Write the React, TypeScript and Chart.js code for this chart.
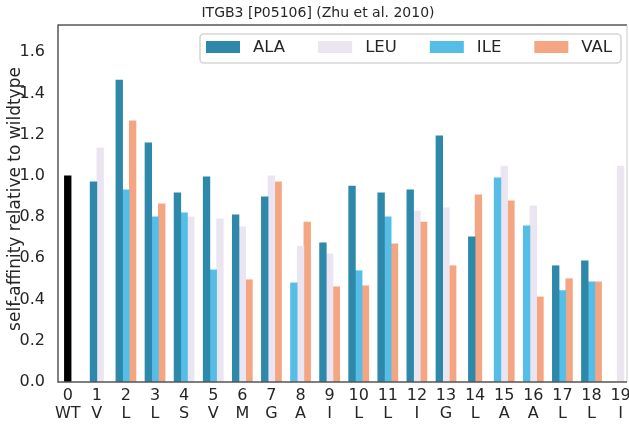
import { useEffect, useRef } from "react";
import { Chart, registerables } from "chart.js";

Chart.register(...registerables);

// Residue at each position along the scanned segment
const residues = ["WT", "V", "L", "L", "S", "V", "M", "G", "A", "I", "L", "L", "I", "G", "L", "A", "A", "L", "L", "I"];

// Self-affinity relative to wildtype for each substitution (null = not measured)
const wildtype = [1.0, null, null, null, null, null, null, null, null, null, null, null, null, null, null, null, null, null, null, null];
const ala = [null, 0.971, 1.465, 1.16, 0.918, 0.995, 0.811, 0.898, null, 0.675, 0.951, 0.918, 0.932, 1.194, 0.704, null, null, 0.564, 0.588, null];
const ile = [null, null, 0.932, 0.801, 0.821, 0.544, null, null, 0.481, null, 0.54, 0.801, null, null, null, 0.99, 0.758, 0.443, 0.486, null];
const leu = [null, 1.136, null, null, 0.801, 0.792, 0.753, 1.0, 0.66, 0.622, null, null, 0.83, 0.845, null, 1.048, 0.855, null, null, 1.048];
const val = [null, null, 1.267, 0.864, null, null, 0.496, 0.971, 0.776, 0.462, 0.467, 0.67, 0.776, 0.564, 0.908, 0.879, 0.413, 0.501, 0.486, null];

const yTicks = [0, 0.2, 0.4, 0.6, 0.8, 1.0, 1.2, 1.4, 1.6];
const legendOrder = ["ALA", "LEU", "ILE", "VAL"];

const FONT = "'DejaVu Sans', Verdana, sans-serif";
const TEXT = "#262626";
const BAR_UNITS = 0.23; // one bar's width in position units

const series = [
  { label: "WT", values: wildtype, color: "#000000" },
  { label: "ALA", values: ala, color: "#2d88aa" },
  { label: "ILE", values: ile, color: "#56bee6" },
  { label: "LEU", values: leu, color: "#ebe5f2" },
  { label: "VAL", values: val, color: "#f4a582" },
];

// Titles, boxed legend and the axes frame
const decorations = {
  id: "decorations",
  afterDraw(chart: any) {
    const { ctx, chartArea } = chart;
    const { left, right, top, bottom } = chartArea;
    ctx.save();

    // frame
    const line = (x1: number, y1: number, x2: number, y2: number, color: string, w: number) => {
      ctx.beginPath();
      ctx.strokeStyle = color;
      ctx.lineWidth = w;
      ctx.moveTo(x1, y1);
      ctx.lineTo(x2, y2);
      ctx.stroke();
    };
    line(left, top, right, top, "#000000", 1);
    line(right, top, right, bottom, "#cccccc", 1);
    line(left, top - 0.5, left, bottom + 0.75, "#555555", 1.5);
    line(left, bottom, right, bottom, "#555555", 1.5);

    // chart title
    ctx.fillStyle = TEXT;
    ctx.font = `14px ${FONT}`;
    ctx.textAlign = "center";
    ctx.textBaseline = "middle";
    ctx.fillText("ITGB3 [P05106] (Zhu et al. 2010)", 318, 13);

    // y-axis title
    ctx.save();
    ctx.translate(15.5, 199);
    ctx.rotate(-Math.PI / 2);
    ctx.font = `17px ${FONT}`;
    ctx.fillText("self-affinity relative to wildtype", 0, 0);
    ctx.restore();

    // legend
    const boxL = 200, boxR = 621, boxT = 34, boxB = 63;
    ctx.beginPath();
    ctx.roundRect(boxL, boxT, boxR - boxL, boxB - boxT, 4);
    ctx.fillStyle = "rgba(255,255,255,0.85)";
    ctx.fill();
    ctx.strokeStyle = "#d6d6d6";
    ctx.lineWidth = 1.6;
    ctx.stroke();

    ctx.font = `16.5px ${FONT}`;
    ctx.textAlign = "left";
    let x = 206;
    legendOrder.forEach((name) => {
      const s = series.find((t) => t.label === name)!;
      ctx.fillStyle = s.color;
      ctx.fillRect(x, 41, 34, 12);
      ctx.fillStyle = TEXT;
      ctx.fillText(name, x + 47, 48);
      x += 47 + ctx.measureText(name).width + 33;
    });

    ctx.restore();
  },
};

export default function App() {
  const ref = useRef<HTMLCanvasElement>(null);

  useEffect(() => {
    const canvas = ref.current!;

    const datasets = series.map((s) => ({
      label: s.label,
      data: residues.flatMap((_, i) => {
        const v = s.values[i];
        if (v == null) return [];
        // bars at one position sit side by side, centred on it
        const present = series.filter((t) => t.values[i] != null);
        const j = present.indexOf(s);
        return [{ x: i + (j - (present.length - 1) / 2) * BAR_UNITS, y: v }];
      }),
      backgroundColor: s.color,
      borderWidth: 0,
      barThickness: 6.7,
      grouped: false,
    }));

    const chart = new Chart(canvas, {
      type: "bar",
      data: { datasets } as any,
      options: {
        animation: false,
        responsive: false,
        devicePixelRatio: 1,
        layout: { padding: { top: 25, right: 2, left: 0, bottom: 0 } },
        plugins: {
          legend: { display: false },
          title: { display: false },
          tooltip: { enabled: false },
        },
        scales: {
          x: {
            type: "linear",
            min: -0.335,
            max: 19.22,
            offset: false,
            grid: { display: false },
            border: { display: false },
            afterBuildTicks: (s: any) => {
              s.ticks = residues.map((_, i) => ({ value: i }));
            },
            afterFit: (s: any) => {
              s.height = 57;
              s.paddingLeft = 0;
              s.paddingRight = 0;
            },
            ticks: {
              autoSkip: false,
              maxRotation: 0,
              minRotation: 0,
              padding: -3,
              color: TEXT,
              font: { family: FONT, size: 16, lineHeight: 1.1 },
              callback: (value: any) => [String(value), residues[value as number]],
            },
          },
          y: {
            min: 0,
            max: 1.732,
            grid: { display: false },
            border: { display: false },
            afterBuildTicks: (s: any) => {
              s.ticks = yTicks.map((value) => ({ value }));
            },
            afterFit: (s: any) => {
              s.width = 58;
              s.paddingTop = 0;
              s.paddingBottom = 0;
            },
            ticks: {
              padding: 5,
              color: TEXT,
              font: { family: FONT, size: 16 },
              callback: (value: any) => Number(value).toFixed(1),
            },
          },
        },
      } as any,
      plugins: [decorations],
    });

    return () => chart.destroy();
  }, []);

  return (
    <div style={{ position: "absolute", left: 0, top: 0, width: 629, height: 439 }}>
      <canvas ref={ref} width={629} height={439} style={{ display: "block" }} />
    </div>
  );
}
